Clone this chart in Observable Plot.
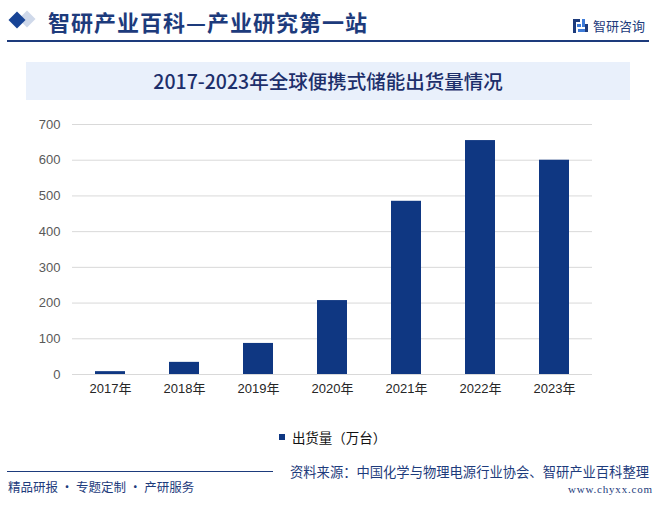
<!DOCTYPE html>
<html><head><meta charset="utf-8">
<script src="https://cdn.jsdelivr.net/npm/d3@7"></script>
<script src="https://cdn.jsdelivr.net/npm/@observablehq/plot@0.6"></script>
<style>
body{margin:0;background:#fff;}
#page{position:relative;width:659px;height:508px;overflow:hidden;background:#fff;font-family:"Noto Sans CJK SC","Liberation Sans",sans-serif;}
.abs{position:absolute;white-space:nowrap;}
#dia2{left:21px;top:13px;width:12px;height:12px;background:#cfd9ea;transform:rotate(45deg);}
#dia1{left:11px;top:14px;width:12px;height:12px;background:#174496;transform:rotate(45deg);}
#head{left:48px;top:6px;font-size:22px;line-height:30px;font-weight:700;color:#1d3b7c;letter-spacing:1px;}
#headline{left:7px;top:40px;width:642px;height:2px;background:#1d3b7c;}
#logotext{left:593px;top:17px;font-size:13px;line-height:18px;color:#1d3b7c;}
#titlebox{left:26px;top:62px;width:604px;height:38px;background:#e9f0fb;}
#title{left:26px;top:62px;width:604px;height:38px;line-height:38px;text-align:center;font-size:19.5px;font-weight:500;color:#1d2f6b;}
#chart{left:0;top:110px;}
#legend{left:10px;top:420px;width:659px;display:flex;justify-content:center;}
#footline{left:7px;top:471px;width:266px;height:1px;background:#1d3b7c;}
#foot{left:8px;top:478px;font-size:12.5px;line-height:18px;color:#1d3b7c;}
#source{left:290px;top:463px;font-size:13.3px;line-height:18px;color:#1d3b7c;}
#url{left:568px;top:482px;font-family:"Liberation Serif",serif;font-size:11px;line-height:14px;color:#1d3b7c;letter-spacing:0.8px;}
</style></head>
<body>
<div id="page">
  <div class="abs" id="dia2"></div>
  <div class="abs" id="dia1"></div>
  <div class="abs" id="head">智研产业百科—产业研究第一站</div>
  <svg class="abs" style="left:573px;top:19px" width="16" height="14" viewBox="0 0 16 14">
    <rect x="0" y="0" width="7" height="3" fill="#1d3b7c"/><rect x="0" y="0" width="3" height="14" fill="#1d3b7c"/>
    <rect x="4" y="5" width="4" height="3" fill="#3d7bd8"/><rect x="9" y="0" width="3" height="8" fill="#3d7bd8"/>
    <rect x="5" y="10" width="9" height="3" fill="#3d7bd8"/><rect x="12" y="5" width="3" height="8" fill="#1d3b7c"/>
  </svg>
  <div class="abs" id="logotext">智研咨询</div>
  <div class="abs" id="headline"></div>
  <div class="abs" id="titlebox"></div>
  <div class="abs" id="title">2017-2023年全球便携式储能出货量情况</div>
  <div class="abs" id="chart"></div>
  <div class="abs" id="legend"></div>
  <div class="abs" id="footline"></div>
  <div class="abs" id="foot">精品研报 · 专题定制 · 产研服务</div>
  <div class="abs" id="source">资料来源：中国化学与物理电源行业协会、智研产业百科整理</div>
  <div class="abs" id="url">www.chyxx.com</div>
</div>
<script>
const years = ["2017年","2018年","2019年","2020年","2021年","2022年","2023年"];
const shipments = [8, 34, 87, 207, 485, 655, 600];
const yTicks = [0, 100, 200, 300, 400, 500, 600, 700];
const seriesName = "出货量（万台）";
const barColor = "#0f3782";

const data = years.map((y, i) => ({year: y, value: shipments[i]}));
const font = "'Liberation Sans','Noto Sans CJK SC',sans-serif";

const chart = Plot.plot({
  width: 659, height: 300,
  marginTop: 14, marginBottom: 36, marginLeft: 72, marginRight: 67,
  style: {fontFamily: font, fontSize: "13px", background: "transparent"},
  x: {domain: years, paddingInner: 0.6, paddingOuter: 0.3, label: null},
  y: {domain: [0, 700], label: null},
  marks: [
    Plot.ruleY(yTicks, {stroke: "#d9d9d9", strokeWidth: 1}),
    Plot.barY(data, {x: "year", y: "value", fill: barColor}),
    Plot.axisY(yTicks, {tickSize: 0, tickPadding: 12, color: "#595959", label: null, fontSize: 13}),
    Plot.axisX({tickSize: 0, tickPadding: 9, color: "#262626", label: null, fontSize: 13})
  ]
});
document.getElementById("chart").appendChild(chart);

const legend = Plot.legend({
  color: {type: "ordinal", domain: [seriesName], range: [barColor]},
  swatchWidth: 6, swatchHeight: 6,
  style: {fontFamily: "'Noto Sans CJK SC',sans-serif", fontSize: "13.5px", color: "#111", marginLeft: "0px"}
});
document.getElementById("legend").appendChild(legend);
</script>
</body></html>
